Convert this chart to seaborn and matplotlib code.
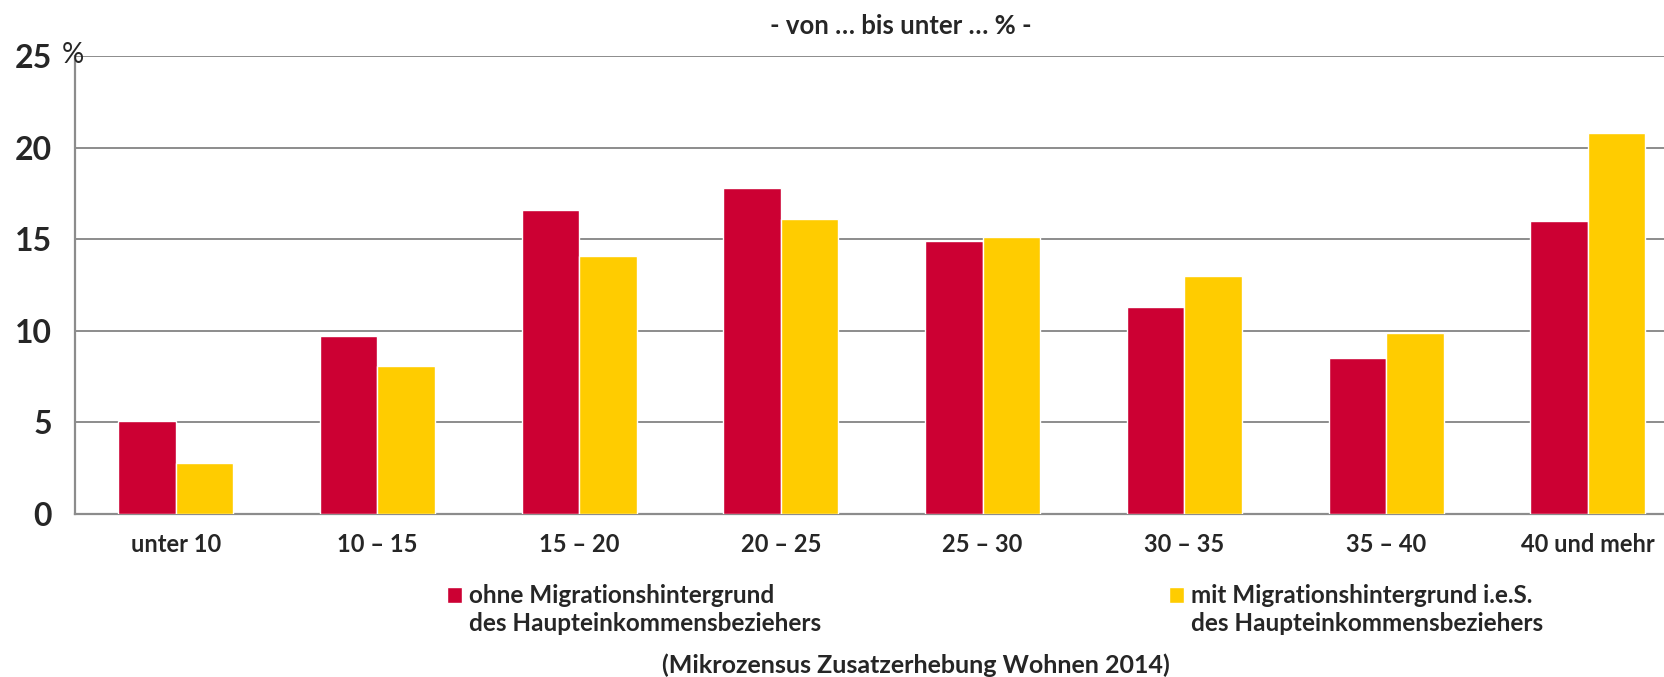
import pandas as pd
import matplotlib
matplotlib.use("Agg")
import matplotlib.pyplot as plt
import seaborn as sns
from matplotlib import font_manager
from matplotlib.ticker import FixedLocator

# data
categories = ["unter 10", "10 – 15", "15 – 20", "20 – 25", "25 – 30", "30 – 35", "35 – 40", "40 und mehr"]
ohne_values = [5.1, 9.7, 16.6, 17.8, 14.9, 11.3, 8.5, 16.0]
mit_values = [2.8, 8.1, 14.1, 16.1, 15.1, 13.0, 9.9, 20.8]
series_names = ["ohne Migrationshintergrund\ndes Haupteinkommensbeziehers",
                "mit Migrationshintergrund i.e.S.\ndes Haupteinkommensbeziehers"]
y_ticks = [0, 5, 10, 15, 20, 25]

RED = "#CC0033"
YELLOW = "#FFCC00"
GREY = "#8C8C8C"

df = pd.DataFrame({
    "Kategorie": categories * 2,
    "Anteil": ohne_values + mit_values,
    "Gruppe": [series_names[0]] * len(categories) + [series_names[1]] * len(categories),
})

sns.set_style("white")
installed = {f.name for f in font_manager.fontManager.ttflist}
main_font = "Lato" if "Lato" in installed else "DejaVu Sans"
plt.rcParams["font.family"] = [main_font, "DejaVu Sans"]

fig = plt.figure(figsize=(16.65, 6.77), dpi=100, facecolor="white")
ax = fig.add_axes([0.045, 0.2408, 0.955, 0.6765])

sns.barplot(data=df, x="Kategorie", y="Anteil", hue="Gruppe", order=categories,
            hue_order=series_names, palette=[RED, YELLOW], width=0.57,
            saturation=1, ax=ax, zorder=3)

ax.set_ylim(0, 25)
ax.set_xlim(-0.5, 7.383)
ax.set_yticks(y_ticks)
ax.set_yticklabels([str(v) for v in y_ticks], fontsize=23, fontweight="bold")
ax.grid(axis="y", color=GREY, linewidth=1.4, zorder=0)
ax.set_axisbelow(True)

ax.set_xticks(range(len(categories)))
ax.set_xticklabels(categories, fontsize=17, fontweight="bold")
ax.xaxis.set_minor_locator(FixedLocator([i - 0.5 for i in range(len(categories) + 1)]))
ax.tick_params(axis="x", which="major", length=0, pad=14)
ax.tick_params(axis="x", which="minor", length=6, width=1.4, color=GREY)
ax.tick_params(axis="y", length=6.5, width=1.4, color=GREY, pad=10)

for side in ["top", "right"]:
    ax.spines[side].set_visible(False)
for side in ["left", "bottom"]:
    ax.spines[side].set_color(GREY)
    ax.spines[side].set_linewidth(1.6)

ax.set_xlabel("")
ax.set_ylabel("")

ax.text(-0.008, 1.003, "%", transform=ax.transAxes, fontsize=20, ha="left", va="center")

leg_size = 17.5
leg = ax.legend(loc="upper left", bbox_to_anchor=(0.2205, -0.106), ncol=2, frameon=False,
                handlelength=0.6, handleheight=0.6, handletextpad=0.3, columnspacing=14.3,
                prop={"size": leg_size, "weight": "bold"})
for t in leg.get_texts():
    t.set_linespacing(1.25)
# move the square marker up to the first text line
for h in leg.legend_handles:
    h.set_y(h.get_y() + 0.64 * leg_size)

fig.text(0.541, 0.962, "- von … bis unter … % -", ha="center", va="center",
         fontsize=18.5, fontweight="bold")
fig.text(0.55, 0.017, "(Mikrozensus Zusatzerhebung Wohnen 2014)", ha="center", va="center",
         fontsize=18, fontweight="bold")

fig.savefig("out.png", dpi=100, facecolor="white")
